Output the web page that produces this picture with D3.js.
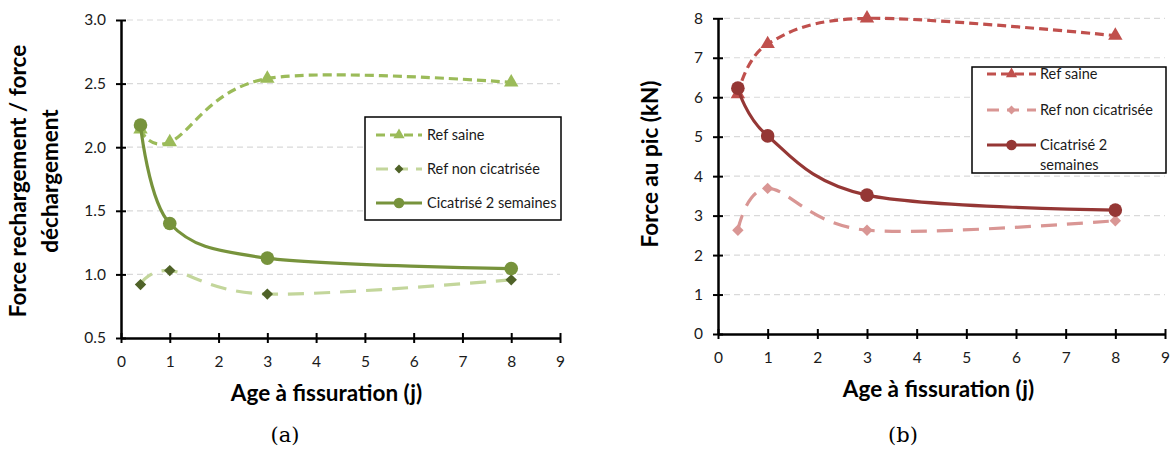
<!DOCTYPE html>
<html><head><meta charset="utf-8">
<script src="https://cdn.jsdelivr.net/npm/d3@7"></script>
<style>
body{margin:0;background:#fff;}
svg{display:block;}
</style></head>
<body>
<svg id="c" width="1173" height="450"></svg>
<script>
// ---------- Data ----------
const ages = [0.4, 1, 3, 8];
const seriesNames = ["Ref saine", "Ref non cicatrisée", "Cicatrisé 2 semaines"];
// Chart (a): Force rechargement / force déchargement
const aRefSaine = [2.14, 2.04, 2.54, 2.51];
const aRefNonCic = [0.92, 1.03, 0.845, 0.957];
const aCicatrise = [2.175, 1.40, 1.128, 1.046];
// Chart (b): Force au pic (kN)
const bRefSaine = [6.08, 7.35, 8.0, 7.56];
const bRefNonCic = [2.63, 3.69, 2.63, 2.87];
const bCicatrise = [6.23, 5.02, 3.52, 3.14];
const xTicks = [0,1,2,3,4,5,6,7,8,9];
const aYTicks = [0.5,1.0,1.5,2.0,2.5,3.0];
const bYTicks = [0,1,2,3,4,5,6,7,8];

const FONT = "Lato, 'Open Sans', sans-serif";
const svg = d3.select("#c");

function markerPath(shape, size){
  if(shape==="diamond") return d3.symbol().type(d3.symbolSquare).size(size)();
  if(shape==="triangle") return d3.symbol().type(d3.symbolTriangle).size(size)();
  return d3.symbol().type(d3.symbolCircle).size(size)();
}
function markerRot(shape){ return shape==="diamond" ? " rotate(45)" : ""; }

function drawChart(cfg){
  const g = svg.append("g");
  const x = d3.scaleLinear().domain([0,9]).range([cfg.x0, cfg.x1]);
  const y = d3.scaleLinear().domain(cfg.yDomain).range([cfg.y0, cfg.y1]);
  // grid
  g.selectAll(".grid").data(cfg.yTicks.filter(t=>t!==cfg.yDomain[0])).enter()
    .append("line").attr("x1",cfg.x0+6).attr("x2",cfg.x1).attr("y1",d=>y(d)).attr("y2",d=>y(d))
    .attr("stroke","#d9d9d9").attr("stroke-width",1.2).attr("stroke-dasharray","6,4");
  // axes
  const yAxis = d3.axisLeft(y).tickValues(cfg.yTicks).tickFormat(cfg.yFmt).tickSizeInner(5).tickSizeOuter(0).tickPadding(10);
  const ya = g.append("g").attr("transform",`translate(${cfg.x0},0)`).call(yAxis);
  const xAxis = d3.axisBottom(x).tickValues(xTicks).tickFormat(d3.format("d")).tickSizeInner(5).tickSizeOuter(0).tickPadding(13);
  const xa = g.append("g").attr("transform",`translate(0,${cfg.y0})`).call(xAxis);
  [ya,xa].forEach(a=>{
    a.select(".domain").attr("stroke","#000").attr("stroke-width",2.5);
    a.selectAll(".tick line").attr("stroke","#000").attr("stroke-width",2);
    a.selectAll(".tick text").style("font-family",FONT).style("font-size","15.5px").attr("fill","#1a1a1a");
  });
  ya.selectAll(".tick line").attr("x1",5).attr("x2",-5);
  xa.selectAll(".tick line").attr("y1",-5).attr("y2",5);
  // lines
  const line = d3.line().x(d=>x(d[0])).y(d=>y(d[1])).curve(d3.curveCardinal.tension(0));
  cfg.series.forEach(s=>{
    const pts = ages.map((a,i)=>[a,s.values[i]]);
    g.append("path").attr("d",line(pts)).attr("fill","none").attr("stroke",s.lineColor)
      .attr("stroke-width",3.2).attr("stroke-dasharray",s.dash||null);
    g.selectAll(null).data(pts).enter().append("path")
      .attr("d",markerPath(s.shape,s.size)).attr("transform",d=>`translate(${x(d[0])},${y(d[1])})${markerRot(s.shape)}`)
      .attr("fill",s.markerColor);
  });
  // legend
  const L = cfg.legend;
  g.append("rect").attr("x",L.x).attr("y",L.y).attr("width",L.w).attr("height",L.h)
    .attr("fill","#fff").attr("stroke","#000").attr("stroke-width",1.5);
  cfg.series.forEach((s,i)=>{
    const ly = L.rows[i];
    g.append("line").attr("x1",L.lx0).attr("x2",L.lx1).attr("y1",ly).attr("y2",ly)
      .attr("stroke",s.lineColor).attr("stroke-width",3.2).attr("stroke-dasharray",s.legendDash||null);
    g.append("path").attr("d",markerPath(s.shape,s.size*0.6))
      .attr("transform",`translate(${(L.lx0+L.lx1)/2},${ly})${markerRot(s.shape)}`)
      .attr("fill",s.markerColor);
    const t = g.append("text").attr("x",L.tx).attr("y",ly+5).style("font-family",FONT).style("font-size","14.5px").attr("fill","#1a1a1a");
    const lines = (L.labels||seriesNames)[i];
    (Array.isArray(lines)?lines:[lines]).forEach((txt,k)=>{
      t.append("tspan").attr("x",L.tx).attr("dy",k===0?0:20).text(txt);
    });
  });
  // axis titles
  g.append("text").attr("x",(cfg.x0+cfg.x1)/2 - cfg.xTitleShift).attr("y",cfg.y0+63).attr("text-anchor","middle")
    .style("font-family",FONT).style("font-weight","bold").style("font-size","22.5px").attr("fill","#000").text("Age à fissuration (j)");
  cfg.yTitle.forEach((txt,k)=>{
    g.append("text").attr("transform",`translate(${cfg.yTitleX[k]},${cfg.yTitleY}) rotate(-90)`)
      .attr("text-anchor","middle").style("font-family",FONT).style("font-weight","bold").style("font-size","22.5px").attr("fill","#000")
      .attr("dy","0.35em").text(txt);
  });
  g.append("text").attr("x",cfg.capX).attr("y",442).attr("text-anchor","middle")
    .style("font-family","'DejaVu Serif', 'Liberation Serif', serif").style("font-size","21px").attr("fill","#000").text(cfg.caption);
}

drawChart({
  x0:121, x1:560, y0:338, y1:20, yDomain:[0.5,3.0], yTicks:aYTicks, yFmt:d3.format(".1f"),
  series:[
    {values:aRefSaine, lineColor:"#9bbb59", markerColor:"#9bbb59", shape:"triangle", size:90, dash:"9,5", legendDash:"9,5"},
    {values:aRefNonCic, lineColor:"#c3d69b", markerColor:"#4f6228", shape:"diamond", size:65, dash:"16,10", legendDash:"12,8"},
    {values:aCicatrise, lineColor:"#77933c", markerColor:"#77933c", shape:"circle", size:145, dash:null}
  ],
  legend:{x:365,y:117,w:196,h:103,rows:[135,169,203],lx0:376,lx1:422,tx:427},
  yTitle:["Force rechargement / force","déchargement"], yTitleX:[18,50], yTitleY:181,
  xTitleShift:14, capX:285, caption:"(a)"
});

drawChart({
  x0:718, x1:1165, y0:334, y1:18.3, yDomain:[0,8], yTicks:bYTicks, yFmt:d3.format("d"),
  series:[
    {values:bRefSaine, lineColor:"#c0504d", markerColor:"#c0504d", shape:"triangle", size:90, dash:"9,5", legendDash:"9,5"},
    {values:bRefNonCic, lineColor:"#d99694", markerColor:"#d99694", shape:"diamond", size:65, dash:"16,10", legendDash:"12,8"},
    {values:bCicatrise, lineColor:"#953735", markerColor:"#953735", shape:"circle", size:145, dash:null}
  ],
  legend:{x:972,y:67,w:194,h:106,rows:[74,110,145],lx0:987,lx1:1036,tx:1040,
    labels:["Ref saine","Ref non cicatrisée",["Cicatrisé 2","semaines"]]},
  yTitle:["Force au pic (kN)"], yTitleX:[650], yTitleY:164,
  xTitleShift:3, capX:903, caption:"(b)"
});
</script>
</body></html>
